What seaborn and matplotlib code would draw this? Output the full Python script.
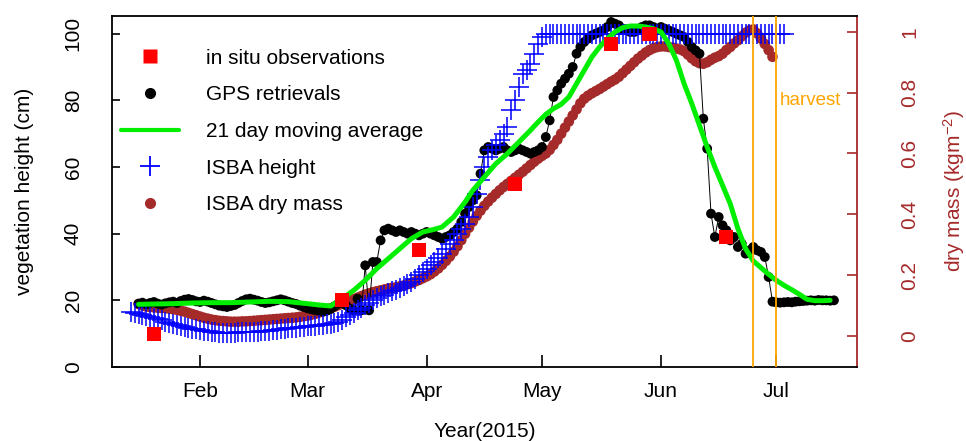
import numpy as np
import pandas as pd
import matplotlib
matplotlib.use("Agg")
import matplotlib.pyplot as plt
import seaborn as sns
from matplotlib.lines import Line2D

sns.set_theme(style="white")
plt.rcParams['font.family'] = ['Liberation Sans', 'DejaVu Sans']
plt.rcParams['mathtext.fontset'] = 'custom'
plt.rcParams['mathtext.rm'] = 'Liberation Sans'
plt.rcParams['mathtext.it'] = 'Liberation Sans:italic'
plt.rcParams['text.color'] = 'black'
plt.rcParams['axes.labelcolor'] = 'black'
plt.rcParams['legend.labelcolor'] = 'black'

# ---------------- data (day of year 2015) ----------------
month_labels = ["Feb", "Mar", "Apr", "May", "Jun", "Jul"]
month_doy = [32, 60, 91, 121, 152, 182]

insitu_doy = [20, 69, 89, 114, 139, 149, 169]
insitu_height = [10, 20, 35, 55, 97, 100, 39]

gps_first_doy = 16
gps_height = [
    19.0, 19.3, 18.8, 19.2, 19.5, 19.0, 18.7, 19.1, 19.4, 19.6, 19.2, 19.8, 20.2, 20.4,
    20.1, 19.7, 19.5, 19.9, 19.6, 19.2, 18.8, 18.4, 18.2, 18.0, 18.3, 18.6, 19.2, 19.8,
    20.3, 20.5, 20.2, 19.9, 19.5, 19.2, 19.4, 19.7, 20.0, 20.3, 20.0, 19.6, 19.2, 18.9,
    18.4, 18.0, 17.6, 17.3, 17.0, 16.8, 16.6, 16.9, 17.4, 18.2, 19.0, 19.6, 18.5, 17.5,
    17.0, 20.5, 17.0, 30.5, 17.0, 31.5, 31.5, 38.0, 41.0, 41.5, 41.0, 40.5, 41.0, 40.5,
    40.0, 40.5, 40.0, 39.5, 40.0, 40.5, 40.0, 39.5, 39.0, 38.5, 39.0, 39.5, 40.5, 41.5,
    43.5, 46.0, 48.0, 50.0, 51.5, 58.0, 65.0, 66.0, 65.5, 65.0, 65.5, 66.0, 65.0, 64.5,
    65.0, 65.5, 65.0, 64.5, 64.0, 64.5, 65.0, 66.0, 69.0, 74.0, 81.0, 83.0, 85.0, 86.5,
    88.0, 90.0, 94.0, 96.0, 97.5, 98.5, 99.5, 100.0, 100.5, 101.0, 102.0, 103.5, 103.0, 102.5,
    101.5, 101.0, 100.5, 100.5, 101.0, 102.0, 102.5, 102.5, 102.0, 101.5, 102.0, 101.5, 101.0, 100.5,
    100.0, 99.5, 99.0, 97.5, 96.0, 95.0, 94.0, 74.5, 65.5, 46.0, 39.0, 45.0, 42.5, 41.0,
    38.0, 39.0, 36.0, 37.0, 34.0, 35.0, 36.0, 35.0, 34.5, 33.0, 27.0, 19.6, 19.4, 19.3,
    19.4, 19.5, 19.4, 19.6, 19.7, 19.8, 19.9, 20.0, 19.9, 20.1, 20.0, 20.0, 19.9, 20.0,
]

ma_doy = [16, 20, 25, 30, 35, 40, 45, 50, 55, 60, 63, 66, 69, 72, 75, 78, 81, 84, 87, 90,
          93, 95, 98, 101, 103, 106, 109, 112, 115, 118, 120, 122, 124, 126, 128, 130, 132,
          134, 136, 138, 140, 142, 144, 146, 148, 150, 152, 154, 156, 158, 160, 162, 164,
          166, 168, 170, 172, 174, 176, 178, 180, 182, 184, 186, 188, 190, 192, 194, 196]
ma_height = [18.8, 18.9, 19.0, 19.2, 19.3, 19.3, 19.5, 19.7, 19.6, 19.0, 18.6, 18.3, 20.5,
             23.0, 26.0, 29.5, 32.5, 35.5, 38.5, 40.5, 41.3, 42.0, 45.0, 49.5, 53.0, 57.0,
             61.0, 64.0, 67.5, 71.0, 73.5, 75.8, 77.5, 78.8, 81.0, 85.0, 89.0, 93.0, 96.0,
             98.5, 100.5, 101.8, 102.3, 102.3, 102.0, 101.5, 100.5, 97.0, 92.0, 85.0, 79.0,
             72.5, 66.0, 60.0, 54.5, 49.0, 41.5, 35.5, 31.8, 29.8, 27.8, 26.0, 24.5, 23.2,
             21.8, 20.3, 19.9, 19.9, 20.0]

isba_first_doy = 14
isba_height = [
    16.6, 16.3, 16.0, 15.6, 15.2, 14.9, 14.6, 14.3, 14.0, 13.6, 13.3, 13.0, 12.6, 12.3,
    12.0, 11.7, 11.5, 11.3, 11.1, 10.9, 10.7, 10.5, 10.4, 10.3, 10.2, 10.2, 10.2, 10.3,
    10.4, 10.5, 10.5, 10.6, 10.6, 10.6, 10.7, 10.8, 10.9, 11.0, 11.2, 11.3, 11.5, 11.6,
    11.7, 11.8, 12.0, 12.1, 12.2, 12.3, 12.4, 12.5, 12.6, 12.8, 13.0, 13.3, 13.6, 14.0,
    15.0, 15.6, 16.3, 17.0, 17.8, 18.6, 19.3, 20.0, 20.6, 21.2, 21.7, 22.2, 22.7, 23.2,
    23.7, 24.2, 24.8, 25.6, 26.5, 27.5, 28.5, 29.5, 30.5, 31.6, 32.7, 34.0, 35.4, 36.8,
    38.2, 39.8, 41.5, 43.0, 45.0, 48.0, 52.0, 56.0, 60.0, 63.0, 65.0, 66.5, 68.0, 70.0,
    72.0, 77.0, 80.0, 84.0, 88.0, 89.0, 91.0, 94.0, 97.0, 99.0, 100.0, 100.0, 100.0, 100.0,
    100.0, 100.0, 100.0, 100.0, 100.0, 100.0, 100.0, 100.0, 100.0, 100.0, 100.0, 100.0, 100.0, 100.0,
    100.0, 100.0, 100.0, 100.0, 100.0, 100.0, 100.0, 100.0, 100.0, 100.0, 100.0, 100.0, 100.0, 100.0,
    100.0, 100.0, 100.0, 100.0, 100.0, 100.0, 100.0, 100.0, 100.0, 100.0, 100.0, 100.0, 100.0, 100.0,
    100.0, 100.0, 100.0, 100.0, 100.0, 100.0, 100.0, 100.0, 100.0, 100.0, 100.0, 100.0, 100.0, 100.0,
    100.0, 100.0, 100.0,
]

drymass_first_doy = 16
isba_drymass = [
    0.105, 0.100, 0.097, 0.095, 0.094, 0.093, 0.092, 0.091, 0.090, 0.088, 0.086, 0.083, 0.080, 0.076,
    0.072, 0.068, 0.064, 0.060, 0.057, 0.054, 0.052, 0.050, 0.049, 0.048, 0.047, 0.047, 0.047, 0.048,
    0.048, 0.049, 0.050, 0.051, 0.052, 0.053, 0.054, 0.055, 0.056, 0.057, 0.058, 0.059, 0.060, 0.061,
    0.063, 0.065, 0.067, 0.070, 0.073, 0.077, 0.081, 0.086, 0.091, 0.096, 0.101, 0.106, 0.111, 0.116,
    0.121, 0.126, 0.131, 0.136, 0.140, 0.144, 0.147, 0.150, 0.153, 0.156, 0.158, 0.160, 0.163, 0.166,
    0.170, 0.174, 0.179, 0.184, 0.190, 0.196, 0.203, 0.212, 0.222, 0.234, 0.247, 0.261, 0.277, 0.295,
    0.315, 0.336, 0.356, 0.376, 0.395, 0.412, 0.428, 0.442, 0.455, 0.467, 0.479, 0.490, 0.500, 0.510,
    0.520, 0.530, 0.540, 0.551, 0.562, 0.573, 0.583, 0.592, 0.600, 0.612, 0.628, 0.645, 0.665, 0.685,
    0.705, 0.725, 0.745, 0.765, 0.780, 0.790, 0.798, 0.805, 0.812, 0.820, 0.828, 0.836, 0.843, 0.852,
    0.864, 0.876, 0.888, 0.900, 0.912, 0.922, 0.932, 0.940, 0.946, 0.950, 0.952, 0.952, 0.950, 0.948,
    0.945, 0.942, 0.936, 0.925, 0.913, 0.903, 0.897, 0.895, 0.900, 0.908, 0.915, 0.920, 0.928, 0.940,
    0.950, 0.962, 0.972, 0.985, 0.997, 1.005, 1.008, 0.995, 0.978, 0.960, 0.940, 0.918,
]

harvest_doy = [176, 182]

# ---------------- figure ----------------
W, H = 966, 441
fig = plt.figure(figsize=(W / 100, H / 100), dpi=100)
ax = fig.add_axes([112 / W, 1 - 367 / H, 745 / W, 351 / H])
ax2 = ax.twinx()
ax.set_zorder(ax2.get_zorder() + 1)
ax.patch.set_visible(False)

BROWN = "#A52A2A"
GREEN = "#00EE00"
ORANGE = "#FFA500"

gps_doy = np.arange(gps_first_doy, gps_first_doy + len(gps_height))
isba_doy = np.arange(isba_first_doy, isba_first_doy + len(isba_height))
dm_doy = np.arange(drymass_first_doy, drymass_first_doy + len(isba_drymass))

# dry mass on right axis
sns.scatterplot(x=dm_doy, y=isba_drymass, ax=ax2, color=BROWN, s=58,
                edgecolor="none", legend=False)

# GPS retrievals
sns.lineplot(x=gps_doy, y=gps_height, ax=ax, color="black", lw=0.7, zorder=1.8,
             legend=False)
sns.scatterplot(x=gps_doy, y=gps_height, ax=ax, color="black", s=50,
                edgecolor="none", legend=False, zorder=2)
# ISBA height
sns.scatterplot(x=isba_doy, y=isba_height, ax=ax, color="#0000FF", marker="+",
                s=200, linewidth=1.1, legend=False, zorder=3)
# moving average
sns.lineplot(x=ma_doy, y=ma_height, ax=ax, color=GREEN, lw=3.6, zorder=4,
             legend=False)
# in situ
sns.scatterplot(x=insitu_doy, y=insitu_height, ax=ax, color="#FF0000", marker="s",
                s=105, edgecolor="none", legend=False, zorder=5)

for d in harvest_doy:
    ax.axvline(d, color=ORANGE, lw=1.3, zorder=6)
ax.text(183.0, 80, "harvest", color=ORANGE, fontsize=13.5, va="center", ha="left",
        zorder=6)

# axes limits
ax.set_xlim(9.09, 203.0)
ax.set_ylim(0, 105.3)
ax2.set_ylim(-0.102, 1.052)

# spines
for s in ["top", "left", "bottom"]:
    ax.spines[s].set_visible(True)
    ax.spines[s].set_color("black")
    ax.spines[s].set_linewidth(1.3)
ax.spines["right"].set_visible(False)
for s in ["top", "left", "bottom"]:
    ax2.spines[s].set_visible(False)
ax2.spines["right"].set_visible(True)
ax2.spines["right"].set_color(BROWN)
ax2.spines["right"].set_linewidth(1.3)

# ticks
ax.set_xticks(month_doy)
ax.set_xticklabels(month_labels)
ax.set_yticks([0, 20, 40, 60, 80, 100])
ax.set_yticklabels(["0", "20", "40", "60", "80", "100"])
ax2.set_yticks([0, 0.2, 0.4, 0.6, 0.8, 1.0])
ax2.set_yticklabels(["0", "0.2", "0.4", "0.6", "0.8", "1"])

ax.tick_params(axis="x", which="both", bottom=True, top=False, direction="in",
               length=8.5, width=1.2, pad=10.5, labelsize=15, colors="black")
ax.tick_params(axis="y", which="both", left=True, right=False, direction="in",
               length=6, width=1.2, pad=21, labelsize=15, colors="black",
               labelrotation=90)
ax2.tick_params(axis="y", which="both", right=True, left=False, direction="in",
                length=7.5, width=1.2, pad=31, labelsize=15, colors=BROWN,
                labelrotation=90)
for lab in ax.get_yticklabels():
    lab.set_va("center")
for lab in ax2.get_yticklabels():
    lab.set_va("center")

ax.set_xlabel("Year(2015)", fontsize=15, color="black")
ax.xaxis.set_label_coords(0.5, -0.158)
ax.set_ylabel("vegetation height (cm)", fontsize=15, color="black")
ax.yaxis.set_label_coords(-0.1047, 0.5)
ax2.set_ylabel("dry mass (kgm$^{-2}$)", fontsize=15, color=BROWN)
ax2.yaxis.set_label_coords(1.1133, 0.5)

handles = [
    Line2D([], [], ls="none", marker="s", color="#FF0000", ms=10, mec="none"),
    Line2D([], [], ls="none", marker="o", color="black", ms=8, mec="none"),
    Line2D([], [], color=GREEN, lw=3),
    Line2D([], [], ls="none", marker="+", color="#0000FF", ms=15, mew=1.3),
    Line2D([], [], ls="none", marker="o", color=BROWN, ms=8, mec="none"),
]
labels = ["in situ observations", "GPS retrievals", "21 day moving average",
          "ISBA height", "ISBA dry mass"]
leg = ax.legend(handles, labels, loc="upper left", bbox_to_anchor=(0.0117, 0.907),
                frameon=False, fontsize=15, handlelength=2.8, handletextpad=1.3,
                labelspacing=0.85, borderpad=0, borderaxespad=0)
for t in leg.get_texts():
    t.set_color("black")

fig.savefig("out.png", dpi=100)
